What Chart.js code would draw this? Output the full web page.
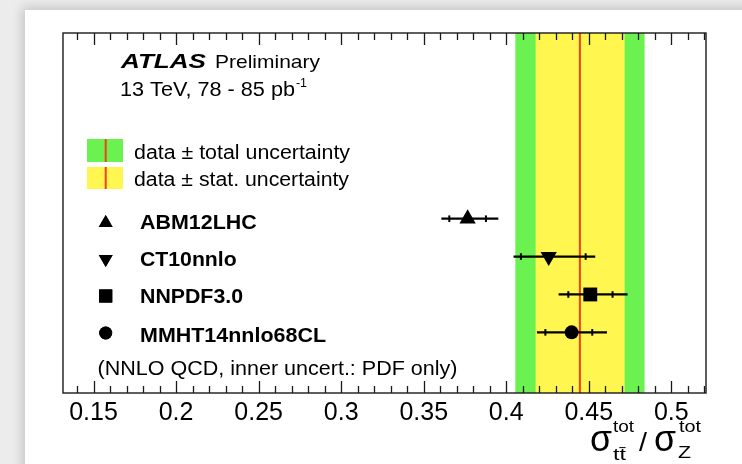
<!DOCTYPE html>
<html><head><meta charset="utf-8">
<script src="https://cdn.jsdelivr.net/npm/chart.js@4"></script>
<style>
html,body{margin:0;padding:0;background:#fff;overflow:hidden;}
#wrap{position:relative;width:742px;height:464px;overflow:hidden;background:#ececec;}
#card{position:absolute;left:25px;top:10px;width:780px;height:520px;background:#fff;box-shadow:0 0 10px 3px rgba(0,0,0,0.16);}
canvas{position:absolute;left:0;top:0;}
</style></head>
<body><div id="wrap"><div id="card"></div><canvas id="c" width="742" height="464"></canvas></div>
<script>
// ---- data ----
const PDF_SETS      = ['ABM12LHC', 'CT10nnlo', 'NNPDF3.0', 'MMHT14nnlo68CL'];
const PRED_CENTRAL  = [0.3766, 0.4257, 0.4509, 0.4396];
const PRED_PDF_LO   = [0.3655, 0.4089, 0.4376, 0.4237];
const PRED_PDF_HI   = [0.3877, 0.4481, 0.4644, 0.4521];
const PRED_TOT_LO   = [0.3607, 0.4044, 0.4317, 0.4186];
const PRED_TOT_HI   = [0.3952, 0.4539, 0.4735, 0.4610];
const DATA_CENTRAL  = 0.4446;
const DATA_STAT     = [0.4180, 0.4715];
const DATA_TOTAL    = [0.4057, 0.4836];
const X_TICKS       = [0.15, 0.2, 0.25, 0.3, 0.35, 0.4, 0.45, 0.5];
const X_TICK_LABELS = ['0.15', '0.2', '0.25', '0.3', '0.35', '0.4', '0.45', '0.5'];
const X_RANGE       = [0.1315, 0.521];
const ROWS          = [0, 1, 2, 3];

const MARKER_STYLE = ['triangle', 'triangle', 'rect', 'circle'];
const MARKER_ROT   = [0, 180, 0, 0];
const MARKER_R     = [9.4, 9.4, 9.8, 7.0];
const GREEN = 'rgb(108,242,80)', YELLOW = 'rgb(255,246,80)', RED = 'rgb(238,66,30)';
const FONT = '"Liberation Sans", Arial, Helvetica, sans-serif';

const datasets = [];
datasets.push({type:'bar', indexAxis:'y', yAxisID:'yb', xAxisID:'x', data:[DATA_TOTAL], backgroundColor:GREEN,
  borderWidth:0, borderSkipped:false, barPercentage:1, categoryPercentage:1, grouped:false, order:6});
datasets.push({type:'bar', indexAxis:'y', yAxisID:'yb', xAxisID:'x', data:[DATA_STAT], backgroundColor:YELLOW,
  borderWidth:0, borderSkipped:false, barPercentage:1, categoryPercentage:1, grouped:false, order:5});
datasets.push({type:'scatter', data:[{x:DATA_CENTRAL, y:-10}, {x:DATA_CENTRAL, y:10}], showLine:true,
  borderColor:RED, borderWidth:2, pointRadius:0, order:4});
ROWS.forEach(i => {
  datasets.push({type:'scatter', data:[{x:PRED_TOT_LO[i], y:i}, {x:PRED_TOT_HI[i], y:i}], showLine:true,
    borderColor:'#000', borderWidth:2.2, pointRadius:0, order:3});
});
datasets.push({type:'scatter', data:ROWS.flatMap(i => [{x:PRED_PDF_LO[i], y:i}, {x:PRED_PDF_HI[i], y:i}]),
  pointStyle:'line', rotation:90, pointRadius:3.3, borderColor:'#000', pointBorderWidth:2, order:2});
datasets.push({type:'scatter', data:ROWS.map(i => ({x:PRED_CENTRAL[i], y:i})),
  pointStyle:MARKER_STYLE, rotation:MARKER_ROT, pointRadius:MARKER_R,
  pointBackgroundColor:'#000', pointBorderColor:'#000', pointBorderWidth:0, order:1});

function txt(ctx, s, x, y, font, w) {
  ctx.font = font;
  const m = ctx.measureText(s).width;
  ctx.save(); ctx.translate(x, y);
  if (w) ctx.scale(w / m, 1);
  ctx.fillText(s, 0, 0);
  ctx.restore();
}

const decor = {
  id:'decor',
  afterDatasetsDraw(chart) {
    const {ctx, chartArea:a, scales:{x}} = chart;
    ctx.save();
    ctx.strokeStyle = '#1a1a1a'; ctx.lineWidth = 1.4;
    ctx.strokeRect(a.left, a.top, a.right - a.left, a.bottom - a.top);
    ctx.lineWidth = 1.3;
    const start = Math.ceil(X_RANGE[0] * 100), end = Math.floor(X_RANGE[1] * 100);
    for (let k = start; k <= end; k++) {
      const v = k / 100;
      const major = k % 5 === 0;
      const len = major ? 12 : 7;
      const px = Math.round(x.getPixelForValue(v)) + 0.5;
      ctx.beginPath();
      ctx.moveTo(px, a.bottom); ctx.lineTo(px, a.bottom - len);
      ctx.moveTo(px, a.top); ctx.lineTo(px, a.top + len);
      ctx.stroke();
    }
    ctx.restore();
  },
  afterDraw(chart) {
    const ctx = chart.ctx;
    ctx.save();
    ctx.fillStyle = '#000'; ctx.textBaseline = 'alphabetic'; ctx.textAlign = 'left';
    txt(ctx, 'ATLAS', 121, 67.5, 'italic bold 21px ' + FONT, 85);
    txt(ctx, 'Preliminary', 215, 67.5, '18.5px ' + FONT, 105);
    txt(ctx, '13 TeV, 78 - 85 pb', 120, 95.5, '19.5px ' + FONT, 175);
    txt(ctx, '-1', 296, 87, '12px ' + FONT, 11);
    // band legend
    ctx.fillStyle = GREEN; ctx.fillRect(87, 139, 36, 23);
    ctx.fillStyle = YELLOW; ctx.fillRect(87, 167, 36, 22);
    ctx.fillStyle = RED; ctx.fillRect(104.7, 139, 2, 23); ctx.fillRect(104.7, 167, 2, 22);
    ctx.fillStyle = '#000';
    txt(ctx, 'data \u00b1 total uncertainty', 134, 158.5, '20px ' + FONT, 216);
    txt(ctx, 'data \u00b1 stat. uncertainty', 134, 185.5, '20px ' + FONT, 215);
    // marker legend
    const legY = [223, 259, 296, 333];
    const legR = [8.0, 8.0, 9.3, 6.5];
    const labW = [116.7, 96.7, 103, 186];
    const labB = [228.5, 265.5, 302.5, 341.5];
    ROWS.forEach(i => {
      Chart.helpers.drawPoint(ctx, {pointStyle:MARKER_STYLE[i], rotation:MARKER_ROT[i], radius:legR[i], borderWidth:0}, 105.7, legY[i]);
      ctx.fillStyle = '#000'; ctx.fill();
      txt(ctx, PDF_SETS[i], 140, labB[i], 'bold 19.5px ' + FONT, labW[i]);
    });
    txt(ctx, '(NNLO QCD, inner uncert.: PDF only)', 97.5, 375, '20px ' + FONT, 360);
    // axis title
    txt(ctx, '\u03c3', 590, 451, '36px ' + FONT, 22);
    txt(ctx, 'tot', 613, 432, '16px ' + FONT, 21);
    txt(ctx, 'tt\u0304', 613, 460, '16px ' + FONT, 13);
    txt(ctx, '/', 639, 451, '26px ' + FONT, 8);
    txt(ctx, '\u03c3', 654, 451, '36px ' + FONT, 22);
    txt(ctx, 'tot', 679, 432, '16px ' + FONT, 22);
    txt(ctx, 'Z', 678, 458, '17px ' + FONT, 13);
    ctx.restore();
  }
};

new Chart(document.getElementById('c'), {
  type:'scatter',
  data:{datasets},
  options:{
    responsive:false, animation:false, events:[],
    layout:{padding:{left:63, right:36, top:33, bottom:0}},
    plugins:{legend:{display:false}, tooltip:{enabled:false}},
    scales:{
      x:{type:'linear', position:'bottom', min:X_RANGE[0], max:X_RANGE[1],
        grid:{display:false}, border:{display:false},
        ticks:{font:{family:FONT, size:25}, color:'#000', padding:-3, maxRotation:0, autoSkip:false,
               includeBounds:false, callback:(v, i) => X_TICK_LABELS[i]},
        afterBuildTicks:s => { s.ticks = X_TICKS.map(v => ({value:v})); },
        afterFit:s => { s.height = 71; }},
      y:{type:'linear', axis:'y', min:-4.9, max:4.6, reverse:true, display:false},
      yb:{type:'category', axis:'y', labels:['band'], offset:true, display:false}
    }
  },
  plugins:[decor]
});
</script>
</body></html>
